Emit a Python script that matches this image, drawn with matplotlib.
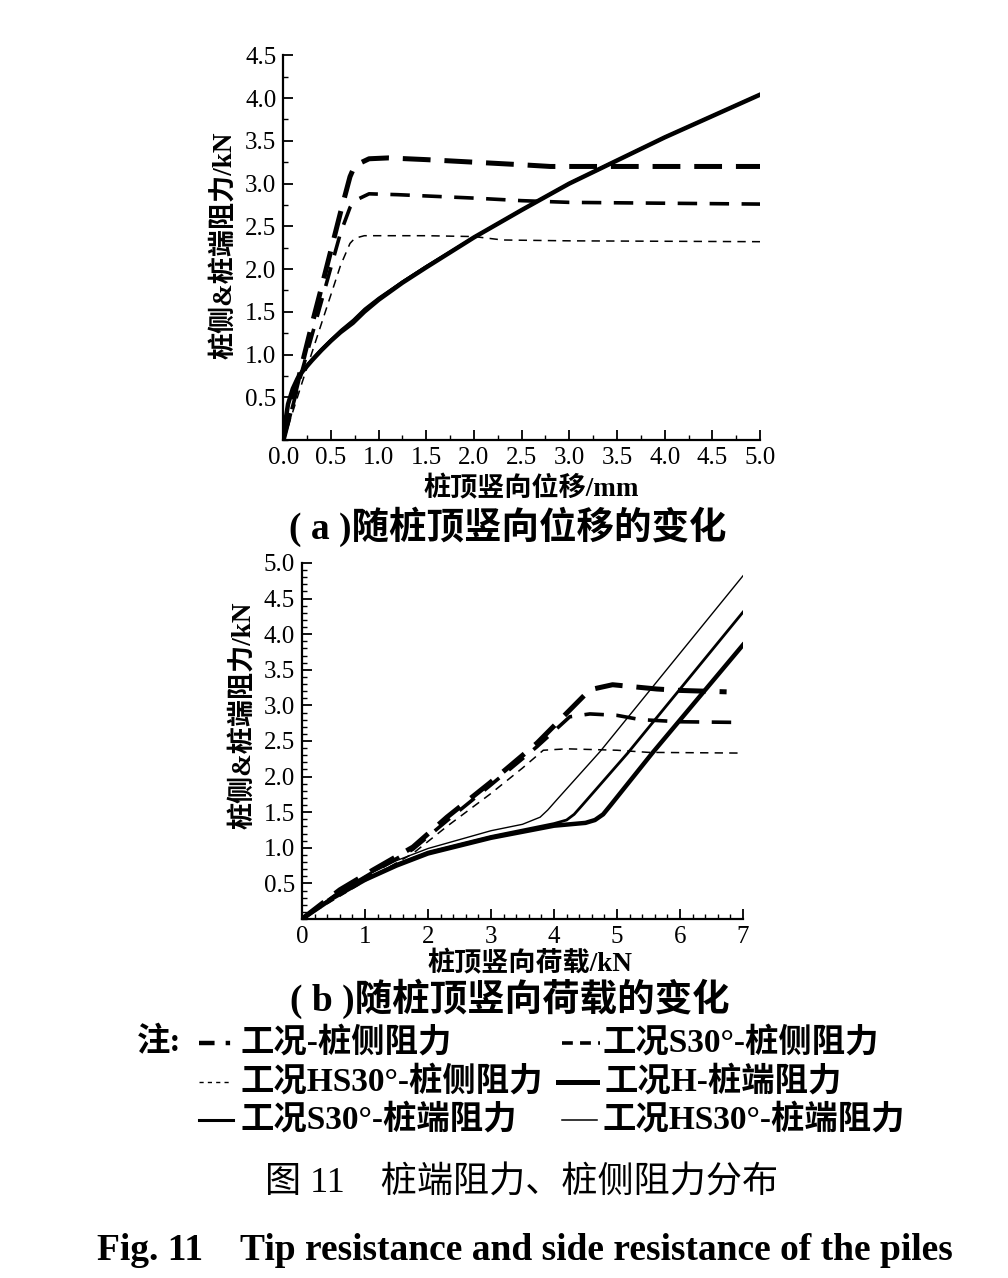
import numpy as np
import matplotlib
matplotlib.use('Agg')
import matplotlib.pyplot as plt
from matplotlib.lines import Line2D
from matplotlib.ticker import MultipleLocator, FixedLocator

plt.rcParams['font.family'] = ['Liberation Serif', 'Noto Sans CJK SC']

# ---- (a) vs pile-top displacement (mm) ----
a_side_h_x = [0, 0.05, 0.1, 0.2, 0.3, 0.4, 0.5, 0.6, 0.7, 0.75, 0.9, 1.1, 1.5, 2.0, 2.5, 2.8, 3.0, 5.0]
a_side_h_y = [0, 0.22, 0.45, 0.9, 1.35, 1.78, 2.22, 2.66, 3.08, 3.21, 3.29, 3.3, 3.28, 3.25, 3.22, 3.2, 3.2, 3.2]
a_side_s_x = [0, 0.05, 0.1, 0.2, 0.3, 0.4, 0.5, 0.6, 0.7, 0.75, 0.9, 1.2, 2.0, 2.5, 3.0, 5.0]
a_side_s_y = [0, 0.2, 0.4, 0.82, 1.22, 1.62, 2.02, 2.42, 2.72, 2.8, 2.88, 2.87, 2.83, 2.8, 2.78, 2.76]
a_side_hs_x = [0, 0.05, 0.1, 0.2, 0.3, 0.4, 0.5, 0.6, 0.7, 0.75, 0.85, 1.5, 2.0, 2.3, 3.0, 5.0]
a_side_hs_y = [0, 0.16, 0.33, 0.68, 1.02, 1.36, 1.7, 2.04, 2.3, 2.36, 2.39, 2.39, 2.38, 2.34, 2.33, 2.32]
a_tip_x = [0, 0.02, 0.05, 0.1, 0.15, 0.2, 0.3, 0.4, 0.5, 0.6, 0.73, 0.85, 1.0, 1.25, 1.5, 2.0, 2.5, 3.0, 3.5, 4.0, 4.5, 5.0]
a_tip_h_y = [0, 0.2, 0.42, 0.6, 0.72, 0.8, 0.93, 1.05, 1.16, 1.26, 1.37, 1.5, 1.64, 1.84, 2.02, 2.37, 2.69, 3.0, 3.27, 3.54, 3.79, 4.04]
a_tip_s_y = [0, 0.2, 0.42, 0.6, 0.72, 0.81, 0.94, 1.06, 1.17, 1.27, 1.39, 1.52, 1.65, 1.85, 2.03, 2.37, 2.69, 3.0, 3.27, 3.54, 3.79, 4.04]
a_tip_hs_y = [0, 0.21, 0.43, 0.61, 0.73, 0.82, 0.95, 1.07, 1.18, 1.29, 1.41, 1.54, 1.67, 1.86, 2.04, 2.38, 2.7, 3.01, 3.28, 3.55, 3.8, 4.05]

# ---- (b) vs pile-top load (kN) ----
b_side_h_x = [0, 0.6, 1.13, 1.76, 2.3, 2.98, 3.73, 4.2, 4.57, 4.93, 5.63, 6.0, 6.74]
b_side_h_y = [0, 0.41, 0.69, 1.01, 1.43, 1.91, 2.47, 2.89, 3.22, 3.29, 3.23, 3.21, 3.19]
b_side_s_x = [0, 0.6, 1.13, 1.76, 2.3, 2.98, 3.73, 4.25, 4.57, 5.0, 5.37, 6.0, 7.0]
b_side_s_y = [0, 0.38, 0.66, 0.98, 1.38, 1.87, 2.42, 2.84, 2.88, 2.86, 2.8, 2.77, 2.76]
b_side_hs_x = [0, 0.6, 1.13, 1.76, 2.3, 2.98, 3.5, 3.83, 4.2, 5.0, 5.5, 7.0]
b_side_hs_y = [0, 0.32, 0.6, 0.92, 1.3, 1.75, 2.12, 2.37, 2.39, 2.37, 2.34, 2.33]
b_tip_h_x = [0, 0.5, 1.0, 1.5, 2.0, 3.0, 4.0, 4.5, 4.65, 4.78, 4.9, 5.56, 7.0]
b_tip_h_y = [0, 0.3, 0.55, 0.75, 0.92, 1.14, 1.31, 1.35, 1.39, 1.47, 1.6, 2.33, 3.85]
b_tip_s_x = [0, 0.5, 1.0, 1.5, 2.0, 3.0, 4.0, 4.2, 4.32, 4.45, 5.17, 7.0]
b_tip_s_y = [0, 0.31, 0.56, 0.77, 0.94, 1.16, 1.34, 1.39, 1.47, 1.6, 2.33, 4.31]
b_tip_hs_x = [0, 0.5, 1.0, 1.5, 2.0, 3.0, 3.5, 3.78, 3.9, 4.05, 4.73, 7.0]
b_tip_hs_y = [0, 0.33, 0.6, 0.82, 0.99, 1.24, 1.33, 1.43, 1.53, 1.68, 2.35, 4.82]

legend_labels = ['工况-桩侧阻力', '工况S30°-桩侧阻力', '工况HS30°-桩侧阻力',
                 '工况H-桩端阻力', '工况S30°-桩端阻力', '工况HS30°-桩端阻力']


def dash(lw, on, off):
    # on/off in points, converted to linewidth units
    return (0, (on / lw, off / lw))


styles = [
    dict(lw=3.6, ls=dash(3.6, 20, 10)),   # H side
    dict(lw=2.6, ls=dash(2.6, 14, 9)),    # S30 side
    dict(lw=1.1, ls=dash(1.1, 6, 4.5)),   # HS30 side
    dict(lw=3.2, ls='-'),                 # H tip
    dict(lw=2.0, ls='-'),                 # S30 tip
    dict(lw=1.0, ls='-'),                 # HS30 tip
]

fig = plt.figure(figsize=(10.08, 12.78), dpi=100)


def style_axes(ax, xmaj, xmin, ymin, xlim, ylim, xfmt, yticks):
    ax.set_xlim(*xlim)
    ax.set_ylim(*ylim)
    for s in ['top', 'right']:
        ax.spines[s].set_visible(False)
    for s in ['left', 'bottom']:
        ax.spines[s].set_linewidth(1.6)
    ax.xaxis.set_major_locator(MultipleLocator(xmaj))
    ax.xaxis.set_minor_locator(MultipleLocator(xmin))
    ax.yaxis.set_major_locator(FixedLocator(yticks))
    ax.yaxis.set_minor_locator(MultipleLocator(ymin))
    ax.xaxis.set_major_formatter(xfmt)
    ax.yaxis.set_major_formatter(lambda v, p: f'{v:.1f}')
    ax.tick_params(which='major', direction='in', length=7, width=1.3, labelsize=18, pad=5)
    ax.tick_params(which='minor', direction='in', length=3.5, width=1.0)


# (a)
ax1 = fig.add_axes([0.281, 0.6557, 0.473, 0.301])
ax1.plot(a_side_h_x, a_side_h_y, color='k', **styles[0])
ax1.plot(a_side_s_x, a_side_s_y, color='k', **styles[1])
ax1.plot(a_side_hs_x, a_side_hs_y, color='k', **styles[2])
ax1.plot(a_tip_x, a_tip_h_y, color='k', **styles[3])
ax1.plot(a_tip_x, a_tip_s_y, color='k', **styles[4])
ax1.plot(a_tip_x, a_tip_hs_y, color='k', **styles[5])
style_axes(ax1, 0.5, 0.25, 0.25, (0, 5), (0, 4.5),
           lambda v, p: f'{v:.1f}', [0.5, 1.0, 1.5, 2.0, 2.5, 3.0, 3.5, 4.0, 4.5])

# (b)
ax2 = fig.add_axes([0.2996, 0.2809, 0.4375, 0.2786])
ax2.plot(b_side_h_x, b_side_h_y, color='k', **styles[0])
ax2.plot(b_side_s_x, b_side_s_y, color='k', **styles[1])
ax2.plot(b_side_hs_x, b_side_hs_y, color='k', **styles[2])
ax2.plot(b_tip_h_x, b_tip_h_y, color='k', **styles[3])
ax2.plot(b_tip_s_x, b_tip_s_y, color='k', **styles[4])
ax2.plot(b_tip_hs_x, b_tip_hs_y, color='k', **styles[5])
style_axes(ax2, 1, 0.2, 0.1, (0, 7), (0, 5.0),
           lambda v, p: f'{v:.0f}', [0.5, 1.0, 1.5, 2.0, 2.5, 3.0, 3.5, 4.0, 4.5, 5.0])

# labels
fig.text(0.222, 1 - 245 / 1278, '桩侧&桩端阻力/kN', rotation=90, ha='center', va='center',
         fontsize=19.5, fontweight='bold')
fig.text(531 / 1008, 1 - 489 / 1278, '桩顶竖向位移/mm', ha='center', va='center', fontsize=19.5, fontweight='bold')
fig.text(508 / 1008, 1 - 527 / 1278, '( a )随桩顶竖向位移的变化', ha='center', va='center', fontsize=27, fontweight='bold')

fig.text(0.241, 1 - 715 / 1278, '桩侧&桩端阻力/kN', rotation=90, ha='center', va='center',
         fontsize=19.5, fontweight='bold')
fig.text(530 / 1008, 1 - 964 / 1278, '桩顶竖向荷载/kN', ha='center', va='center', fontsize=19.5, fontweight='bold')
fig.text(510 / 1008, 1 - 999 / 1278, '( b )随桩顶竖向荷载的变化', ha='center', va='center', fontsize=27, fontweight='bold')

# legend note
fig.text(0.136, 1 - 1043 / 1278, '注:', ha='left', va='center', fontsize=24, fontweight='bold')
rows_y = [1 - 1043 / 1278, 1 - 1082 / 1278, 1 - 1120 / 1278]
entries = [
    (0, 0, 199, 235, 240),
    (1, 0, 562, 600, 603),
    (2, 1, 199, 232, 240),
    (3, 1, 558, 597, 605),
    (4, 2, 199, 233, 240),
    (5, 2, 562, 597, 603),
]
legend_dash = [dict(lw=3.2, ls=(0, (3.5, 2.5, 1, 2.5))), dict(lw=2.6, ls=(0, (3, 2))),
               dict(lw=1.0, ls=(0, (3, 3))), dict(lw=3.6, ls='-'),
               dict(lw=2.2, ls='-'), dict(lw=1.1, ls='-')]
for k, row, x0, x1, xt in entries:
    y = rows_y[row]
    fig.add_artist(Line2D([x0 / 1008, x1 / 1008], [y, y], color='k', **legend_dash[k]))
    fig.text(xt / 1008, y, legend_labels[k], ha='left', va='center', fontsize=24, fontweight='bold')

fig.text(522 / 1008, 1 - 1183 / 1278, '图 11    桩端阻力、桩侧阻力分布', ha='center', va='center', fontsize=26)
fig.text(525 / 1008, 1 - 1250 / 1278, 'Fig. 11    Tip resistance and side resistance of the piles',
         ha='center', va='center', fontsize=27, fontweight='bold')

fig.savefig('out.png', dpi=100)
